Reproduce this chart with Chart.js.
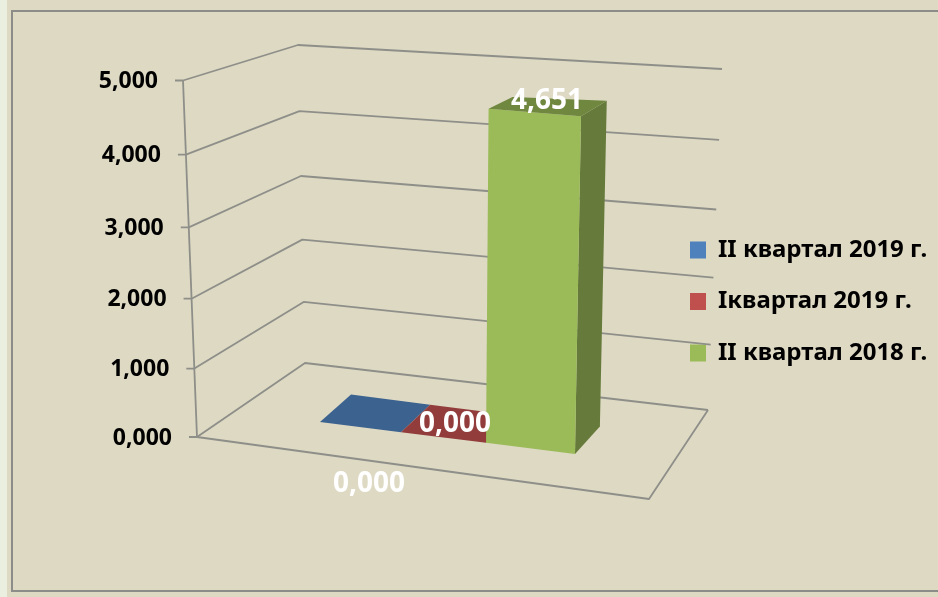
<!DOCTYPE html>
<html>
<head>
<meta charset="utf-8">
<style>
html,body{margin:0;padding:0;background:#DDD9C3;}
canvas{display:block;}
</style>
<script src="https://cdn.jsdelivr.net/npm/chart.js@4"></script>
</head>
<body>
<canvas id="c" width="938" height="597"></canvas>
<script>
// ---- data ----
const categories = [''];
const seriesNames = ['II квартал 2019 г.', 'Iквартал 2019 г.', 'II квартал 2018 г.'];
const q2_2019 = [0];
const q1_2019 = [0];
const q2_2018 = [4.651];
const axisMax = 5;
const axisStep = 1;

// ---- style ----
const FONT = '"Noto Sans"';
const AXIS_FONT = 23, LEGEND_FONT = 24, VALUE_FONT = 28;
const GRID = '#8f8f8a';
const COLORS = ['#4F81BD', '#C0504D', '#9BBB59'];
const fmt = v => v.toFixed(3).replace('.', ',');
const lerp = (a, b, t) => a + (b - a) * t;
const shade = (hex, k) => {
  const n = parseInt(hex.slice(1), 16);
  return `rgb(${Math.round((n >> 16) * k)},${Math.round(((n >> 8) & 255) * k)},${Math.round((n & 255) * k)})`;
};

// vertical perspective of the walls: share of the axis height for a share of the axis range
const warp = t => t - 0.05 * t * (1 - t);
// wall corners at the bottom and top of the value axis
const WALL = {
  front: [[197, 437], [183, 80.5]],
  back:  [[305, 363], [298, 45]],
  right: [[708, 410], [722, 69]]
};
const FLOOR_NEAR = [649, 499];
const wallPoint = (edge, t) => {
  const f = warp(t), [a, b] = WALL[edge];
  return [lerp(a[0], b[0], f), lerp(a[1], b[1], f)];
};

// 3D bar element: geometry comes from the bar controller (x, y, base, width)
class Box3D extends Chart.BarElement {
  draw(ctx) {
    const { x, y, base, width } = this.getProps(['x', 'y', 'base', 'width']);
    const area = this.$area;
    const full = base - (area.bottom - (area.bottom - area.top) * 4.651 / axisMax);
    const project = (px, py) => {
      const u = (px - area.left) / (area.right - area.left);
      const bx = area.left + (area.right - area.left) * (u - 0.07 * u * (1 - u));
      const hf = (base - py) / full;
      return {
        X: bx + hf * (2.5 + (bx - 485) * 0.039),
        Y: 422 + 0.125 * (bx - 320) - hf * (334 + (bx - 488) * 0.043),
        bx, hf
      };
    };
    const back = p => {
      const dx = lerp(31 - (p.bx - 320) * 0.024, 24 + (p.bx - 488) * 0.02, p.hf);
      const dy = lerp(-27.5, -12 - (p.bx - 488) * 0.038, p.hf);
      return { X: p.X + dx, Y: p.Y + dy };
    };
    const xl = x - width / 2, xr = x + width / 2;
    const tl = project(xl, y), tr = project(xr, y), bl = project(xl, base), br = project(xr, base);
    const fill = (pts, color) => {
      ctx.beginPath();
      pts.forEach((p, i) => i ? ctx.lineTo(p.X, p.Y) : ctx.moveTo(p.X, p.Y));
      ctx.closePath();
      ctx.fillStyle = color;
      ctx.fill();
    };
    const color = this.options.backgroundColor;
    const tall = base - y > 0.5;
    ctx.save();
    if (tall) {
      fill([tr, back(tr), back(br), br], shade(color, 0.66));
      fill([tl, tr, br, bl], color);
    }
    fill([tl, back(tl), back(tr), tr], shade(color, tall ? 0.72 : 0.76));
    ctx.restore();
  }
}
Box3D.id = 'box3d';
class Bar3DController extends Chart.BarController {
  updateElements(bars, start, count, mode) {
    super.updateElements(bars, start, count, mode);
    bars.forEach(b => { b.$area = this.chart.chartArea; });
  }
  // later series stand in front, yet keep their left-to-right place in the cluster
  _getStackIndex(datasetIndex, dataIndex, name) {
    return this._getStackCount(dataIndex) - 1 - super._getStackIndex(datasetIndex, dataIndex, name);
  }
}
Bar3DController.id = 'bar3d';
Bar3DController.defaults = { dataElementType: 'box3d' };
Chart.register(Box3D, Bar3DController);

const scenePlugin = {
  id: 'scene',
  beforeLayout(chart) {
    const lg = chart.legend;
    if (lg && !lg.$wrapped) {
      const fit = lg.fit;
      lg.fit = function () { fit.call(this); this.width = 363; };
      lg.$wrapped = true;
    }
  },
  beforeDraw(chart) {
    const { ctx, width, height, chartArea, scales: { y } } = chart;
    ctx.save();
    ctx.fillStyle = '#DDD9C3';
    ctx.fillRect(0, 0, width, height);
    ctx.fillStyle = '#EBEFE0';
    ctx.fillRect(0, 0, 7, height);
    ctx.strokeStyle = '#8c8c88';
    ctx.lineWidth = 2;
    ctx.beginPath();
    ctx.moveTo(width, 11);
    ctx.lineTo(12, 11);
    ctx.lineTo(12, 591);
    ctx.lineTo(width, 591);
    ctx.stroke();
    ctx.restore();

    // place the legend over the right of the plot
    const lg = chart.legend;
    lg.left = 690 - lg.options.labels.padding;
    lg.right = width;
    lg.top = 238 - lg.options.labels.padding;
    lg.bottom = height;

    // the axis labels follow the slanted front edge
    const items = y.getLabelItems(chartArea);
    y.ticks.forEach((tick, i) => {
      const p = wallPoint('front', tick.value / axisMax);
      items[i].options.translation = [p[0] - 25, p[1] + 1];
    });
  },
  beforeDatasetsDraw(chart) {
    const { ctx, scales: { y } } = chart;
    ctx.save();
    ctx.strokeStyle = GRID;
    ctx.lineWidth = 1.8;
    ctx.lineJoin = 'round';
    const line = pts => {
      ctx.beginPath();
      pts.forEach((p, i) => i ? ctx.lineTo(p[0], p[1]) : ctx.moveTo(p[0], p[1]));
      ctx.stroke();
    };
    y.ticks.forEach(tick => {
      const t = tick.value / axisMax;
      const a = wallPoint('front', t), b = wallPoint('back', t), c = wallPoint('right', t);
      line([[a[0] - 8, a[1]], a, b, c]);
    });
    line([wallPoint('front', 0), wallPoint('front', 1)]);
    line([wallPoint('right', 0), FLOOR_NEAR, wallPoint('front', 0)]);
    ctx.restore();
  },
  afterDatasetsDraw(chart) {
    const { ctx } = chart;
    const offsets = { [seriesNames[0]]: [6.5, 47], [seriesNames[1]]: [7.5, -13], [seriesNames[2]]: [14.5, -4.4] };
    ctx.save();
    ctx.fillStyle = '#fff';
    ctx.font = `bold ${VALUE_FONT}px ${FONT}`;
    ctx.textAlign = 'center';
    ctx.textBaseline = 'middle';
    chart.data.datasets.forEach((ds, i) => {
      const el = chart.getDatasetMeta(i).data[0];
      const o = offsets[ds.label];
      ctx.fillText(fmt(ds.data[0]), el.x + o[0], el.y + o[1]);
    });
    ctx.restore();
  }
};

new Chart(document.getElementById('c'), {
  type: 'bar3d',
  data: {
    labels: categories,
    datasets: [
      { label: seriesNames[0], data: q2_2019, backgroundColor: COLORS[0], order: 2, clip: false },
      { label: seriesNames[1], data: q1_2019, backgroundColor: COLORS[1], order: 1, clip: false },
      { label: seriesNames[2], data: q2_2018, backgroundColor: COLORS[2], order: 0, clip: false }
    ]
  },
  options: {
    responsive: false,
    animation: false,
    events: [],
    layout: { padding: { top: 80.5, bottom: 160, left: 0, right: 0 } },
    datasets: { bar3d: { categoryPercentage: 1, barPercentage: 1 } },
    scales: {
      x: { type: 'category', offset: true, display: false },
      y: {
        type: 'linear',
        min: 0,
        max: axisMax,
        afterFit: s => { s.width = 320; },
        grid: { display: false, drawTicks: false },
        border: { display: false },
        ticks: {
          stepSize: axisStep,
          autoSkip: false,
          color: '#000',
          padding: 4,
          font: { family: FONT, size: AXIS_FONT, weight: 'bold' },
          callback: v => fmt(v)
        }
      }
    },
    plugins: {
      tooltip: { enabled: false },
      legend: {
        position: 'right',
        align: 'start',
        labels: {
          boxWidth: 16,
          boxHeight: 17,
          padding: 27.5,
          color: '#000',
          sort: (a, b) => a.datasetIndex - b.datasetIndex,
          font: { family: FONT, size: LEGEND_FONT, weight: 'bold' }
        }
      }
    }
  },
  plugins: [scenePlugin]
});
</script>
</body>
</html>
